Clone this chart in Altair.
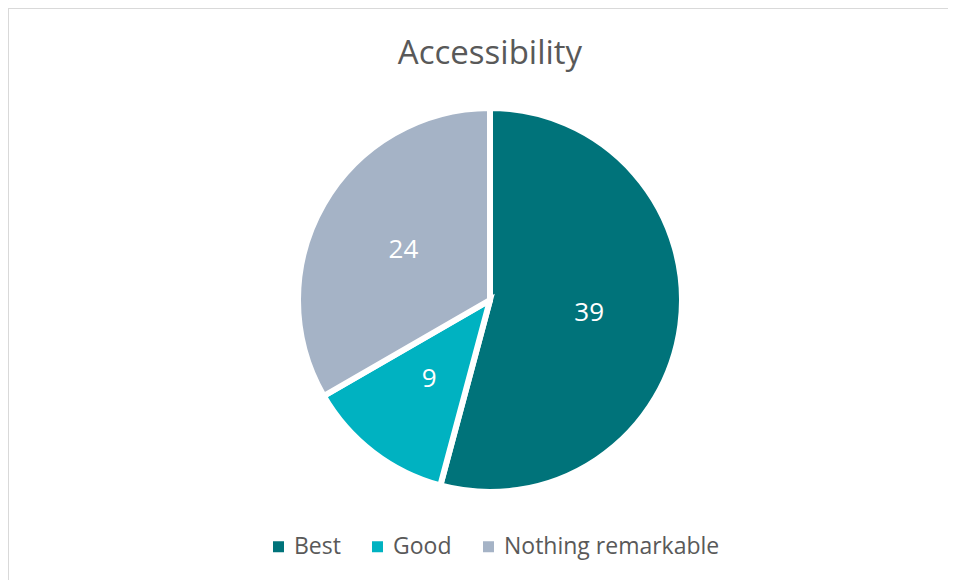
import altair as alt
import pandas as pd

categories = ["Best", "Good", "Nothing remarkable"]
values = [39, 9, 24]
colors = ["#00737A", "#00B2C1", "#A5B3C6"]

W, H = 940, 572

df = pd.DataFrame({"category": categories, "value": values, "order": list(range(len(categories)))})

frame_src = alt.Data(values=[{"f": 1}])
frame_left = alt.Chart(frame_src).mark_rule(color="#D9D9D9", strokeWidth=2).encode(
    x=alt.value(0), y=alt.value(0), y2=alt.value(H)
)
frame_top = alt.Chart(frame_src).mark_rule(color="#D9D9D9", strokeWidth=2).encode(
    y=alt.value(0), x=alt.value(0), x2=alt.value(W)
)
edge_cover = alt.Chart(frame_src).mark_rule(color="white", strokeWidth=4).encode(
    x=alt.value(W - 1), y=alt.value(2), y2=alt.value(H)
)

base = alt.Chart(df).encode(
    theta=alt.Theta("value:Q", stack=True),
    order=alt.Order("order:Q"),
    x=alt.value(482),
    y=alt.value(292),
)

pie = base.mark_arc(outerRadius=192, stroke="white", strokeWidth=6).encode(
    color=alt.Color(
        "category:N",
        scale=alt.Scale(domain=categories, range=colors),
        legend=alt.Legend(
            title=None,
            orient="none",
            legendX=259,
            legendY=527,
            direction="horizontal",
            symbolType="square",
            symbolSize=121,
            symbolStrokeWidth=0,
            labelFontSize=23,
            labelFont="Open Sans",
            labelColor="#595959",
            labelOffset=4,
            labelLimit=500,
            columnPadding=25,
        ),
    )
)

labels = base.mark_text(radius=100, fontSize=26, font="Open Sans", color="white").encode(
    text="value:Q"
)

chart = (
    (frame_left + frame_top + edge_cover + pie + labels)
    .properties(
        width=W,
        height=H,
        autosize="none",
        padding=0,
        title=alt.TitleParams(
            "Accessibility",
            font="Open Sans",
            fontSize=33,
            fontWeight="normal",
            color="#595959",
            anchor="middle",
            baseline="alphabetic",
            offset=-90,
            dx=482 - W / 2,
        ),
    )
    .configure_view(stroke="transparent", strokeWidth=0)
)

chart.save("out.html", embed_options={"renderer": "svg", "actions": False})
